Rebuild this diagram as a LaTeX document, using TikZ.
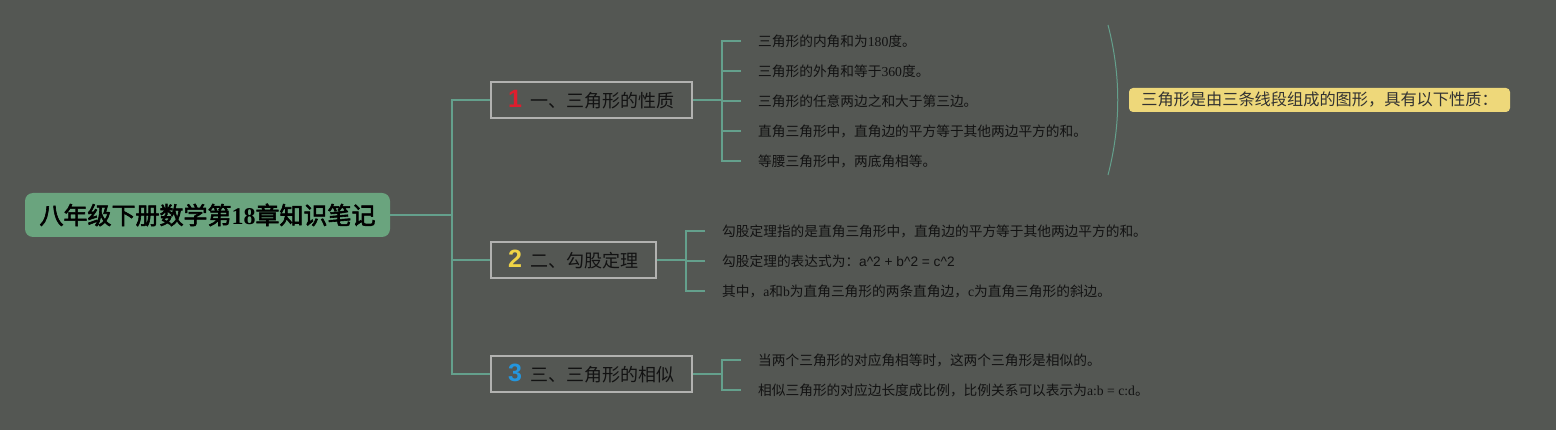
\documentclass[tikz,border=0pt]{standalone}
\usepackage{fontspec}
\setmainfont{Liberation Serif}
\newfontfamily\cjk[AutoFakeBold=2.5]{Noto Sans CJK SC}
\newfontfamily\numfont{Liberation Sans}
\definecolor{bg}{RGB}{84,87,83}
\definecolor{rootfill}{RGB}{106,164,126}
\definecolor{conncol}{RGB}{100,160,140}
\definecolor{boxline}{RGB}{178,178,176}
\definecolor{leaftext}{RGB}{18,18,18}
\definecolor{sumfill}{RGB}{238,216,122}
\definecolor{sumtext}{RGB}{50,50,50}
\definecolor{numred}{RGB}{222,30,46}
\definecolor{numyellow}{RGB}{240,212,70}
\definecolor{numblue}{RGB}{36,150,222}
\newcommand{\lat}[1]{{\rmfamily #1}}
\newcommand{\bnum}[2]{\textcolor{#1}{\fontsize{25}{26}\selectfont\numfont\bfseries #2}\hspace{9pt}}
\tikzset{
  conn/.style={draw=conncol, line width=1.2pt},
  rootbox/.style={fill=rootfill, rounded corners=8pt, minimum width=365pt, minimum height=44pt, inner sep=0pt,
    font=\fontsize{24}{27}\selectfont\cjk\bfseries, text=black},
  branchbox/.style={draw=boxline, line width=1.5pt, fill=bg, minimum height=36pt, inner sep=0pt,
    font=\fontsize{18}{20}\selectfont\cjk, text=leaftext},
  leaf/.style={anchor=west, inner xsep=17pt, inner ysep=2pt, font=\fontsize{13.7}{16}\selectfont\cjk, text=leaftext},
  sumbox/.style={fill=sumfill, rounded corners=4pt, minimum width=381pt, minimum height=24pt, inner sep=0pt,
    font=\fontsize{16.2}{18}\selectfont\cjk, text=sumtext}
}
\begin{document}
\begin{tikzpicture}[x=1pt,y=-1pt]
\fill[bg] (0,0) rectangle (1556,430);
\useasboundingbox (0,0) rectangle (1556,430);

% root
\node[rootbox] (root) at (207.5,215) {八年级下册数学第{\rmfamily\bfseries 18}章知识笔记};

% branches
\node[branchbox, minimum width=201pt] (b1) at (591.5,100) {\bnum{numred}{1}一、三角形的性质};
\node[branchbox, minimum width=165pt] (b2) at (573.5,260) {\bnum{numyellow}{2}二、勾股定理};
\node[branchbox, minimum width=201pt] (b3) at (591.5,374) {\bnum{numblue}{3}三、三角形的相似};

\coordinate (j0) at (452,215);
\draw[conn] (root.east) -- (j0);
\draw[conn] (j0) |- (b1.west);
\draw[conn] (j0) |- (b2.west);
\draw[conn] (j0) |- (b3.west);

% leaves of branch 1
\node[leaf] (l11) at (741,41) {三角形的内角和为\lat{180}度。};
\node[leaf] (l12) at (741,71) {三角形的外角和等于\lat{360}度。};
\node[leaf] (l13) at (741,101) {三角形的任意两边之和大于第三边。};
\node[leaf] (l14) at (741,131) {直角三角形中，直角边的平方等于其他两边平方的和。};
\node[leaf] (l15) at (741,161) {等腰三角形中，两底角相等。};
\coordinate (j1) at (722,100);
\draw[conn] (b1.east) -- (j1);
\foreach \n in {l11,l12,l13,l14,l15} \draw[conn] (j1) |- (\n.west);

% leaves of branch 2
\node[leaf] (l21) at (705,231) {勾股定理指的是直角三角形中，直角边的平方等于其他两边平方的和。};
\node[leaf] (l22) at (705,261) {勾股定理的表达式为：{\numfont a\^{}2 + b\^{}2 = c\^{}2}};
\node[leaf] (l23) at (705,291) {其中，\lat{a}和\lat{b}为直角三角形的两条直角边，\lat{c}为直角三角形的斜边。};
\coordinate (j2) at (686,260);
\draw[conn] (b2.east) -- (j2);
\foreach \n in {l21,l22,l23} \draw[conn] (j2) |- (\n.west);

% leaves of branch 3
\node[leaf] (l31) at (741,360) {当两个三角形的对应角相等时，这两个三角形是相似的。};
\node[leaf] (l32) at (741,390) {相似三角形的对应边长度成比例，比例关系可以表示为\lat{a:b = c:d}。};
\coordinate (j3) at (722,374);
\draw[conn] (b3.east) -- (j3);
\foreach \n in {l31,l32} \draw[conn] (j3) |- (\n.west);

% summary
\coordinate (s1) at (1108,25);
\coordinate (s2) at (1108,175);
\draw[conn, line width=1pt] (s1) .. controls (1121,75) and (1121,125) .. (s2);
\node[sumbox] (sum) at (1319.5,100) {三角形是由三条线段组成的图形，具有以下性质：};
\end{tikzpicture}
\end{document}
